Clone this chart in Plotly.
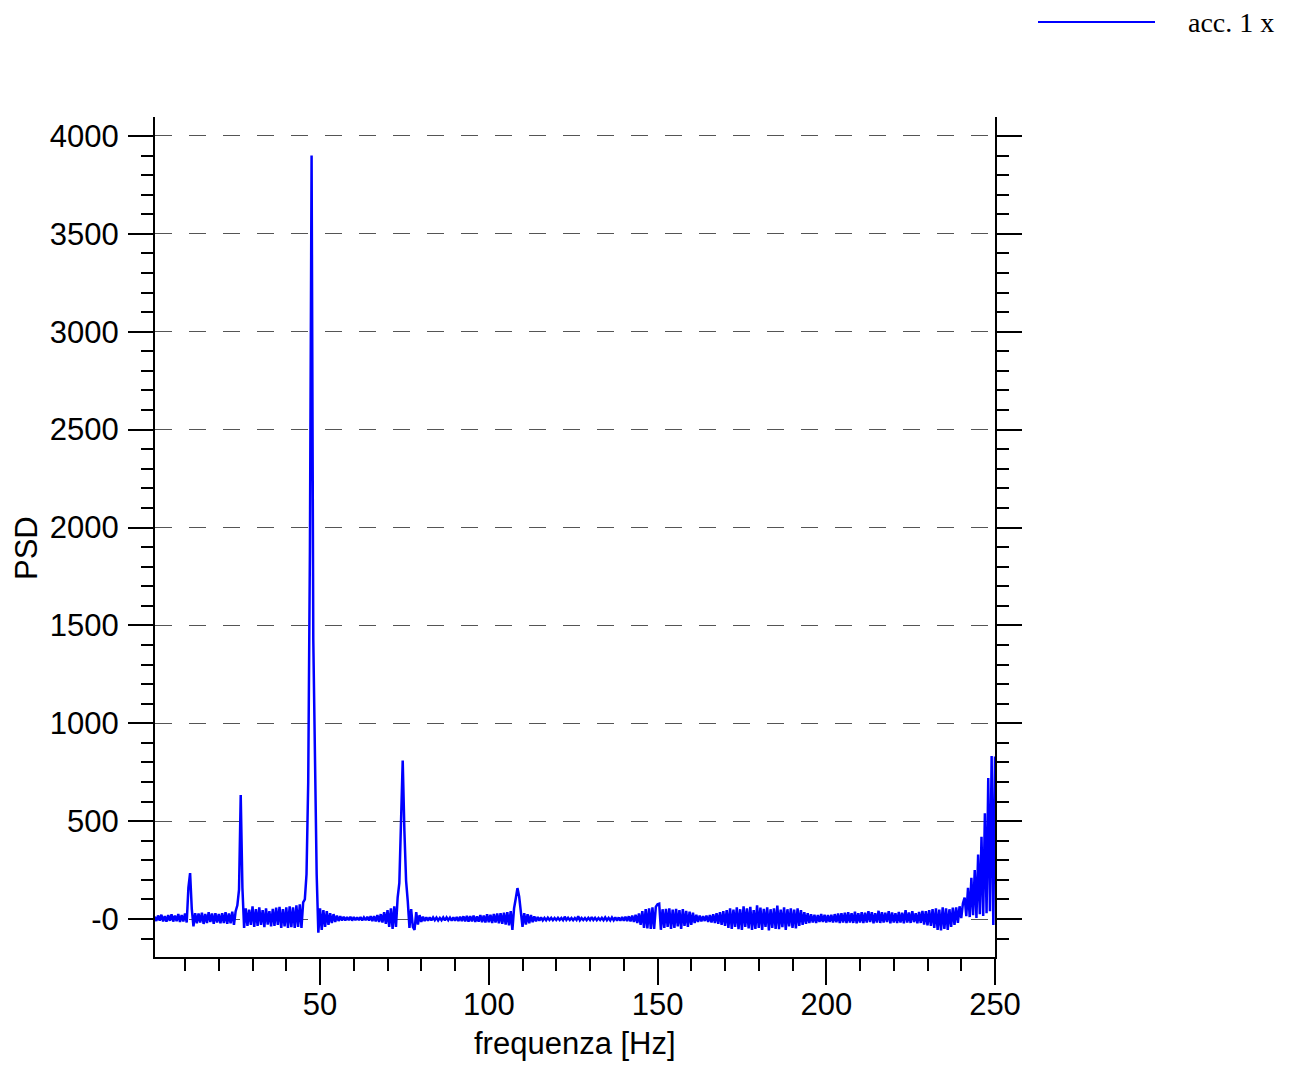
import numpy as np
import plotly.graph_objects as go

# Frequency bins (Hz): uniform sampling grid
FREQ_START = 1.0
FREQ_STEP = 0.5

# PSD values, one row per 10 Hz (20 bins per row)
psd_rows = [
    [12, -10, 18, -8, 22, -12, 15, -14, 20, -9, 24, -13, 18, -11, 25, -15, 20, -12, 28, -18],        # 1.0 - 10.5
    [160, 235, 50, -38, 30, -22, 28, -18, 32, -25, 26, -20, 35, -15, 28, -24, 30, -18, 26, -22],     # 11.0 - 20.5
    [30, -20, 35, -25, 28, -22, 38, -30, 40, 70, 150, 633, 160, -45, 55, -35, 48, -30, 65, -40],     # 21.0 - 30.5
    [50, -35, 60, -30, 45, -42, 55, -28, 40, -38, 52, -35, 58, -30, 62, -45, 50, -38, 60, -45],      # 31.0 - 40.5
    [65, -42, 60, -45, 70, -40, 75, -45, 85, 100, 230, 700, 1880, 3900, 1430, 700, 230, -70, 55, -55],  # 41.0 - 50.5
    [45, -40, 40, -30, 30, -20, 25, -15, 18, -10, 15, -8, 12, -7, 10, -6, 12, -8, 10, -6],           # 51.0 - 60.5
    [9, -6, 10, -7, 8, -6, 12, -8, 14, -10, 15, -12, 20, -15, 25, -18, 35, -25, 45, -40],            # 61.0 - 70.5
    [55, -50, 65, -40, 110, 185, 445, 810, 450, 195, 90, -45, 50, -40, -55, 35, -28, 20, -15, 12],   # 71.0 - 80.5
    [-10, 9, -8, 8, -7, 8, -6, 7, -7, 6, -6, 8, -7, 8, -6, 7, -8, 9, -8, 10],                         # 81.0 - 90.5
    [-10, 12, -10, 14, -12, 16, -14, 15, -12, 18, -15, 14, -13, 20, -16, 18, -18, 24, -16, 22],      # 91.0 - 100.5
    [-20, 26, -18, 28, -22, 30, -25, 32, -28, 35, -32, 40, -55, 55, 105, 158, 115, 45, -40, 30],     # 101.0 - 110.5
    [-28, 25, -22, 20, -16, 14, -12, 10, -8, 8, -7, 6, -6, 7, -5, 6, -6, 5, -5, 6],                  # 111.0 - 120.5
    [-5, 5, -6, 12, -5, 6, -5, 5, -6, 5, -5, 14, -6, 5, -5, 5, -6, 6, -5, 10],                        # 121.0 - 130.5
    [-5, 6, -6, 5, -5, 6, -6, 8, -6, 6, -7, 8, -6, 9, -8, 8, -9, 10, -9, 12],                         # 131.0 - 140.5
    [-10, 14, -12, 18, -15, 22, -20, 28, -30, 40, -45, 50, -48, 55, -50, 60, -50, 62, 75, 78],       # 141.0 - 150.5
    [-55, 50, -45, 52, -40, 55, -50, 48, -45, 52, -38, 45, -50, 50, -35, 42, -40, 38, -30, 32],      # 151.0 - 160.5
    [-20, 22, -15, 18, -12, 15, -10, 18, -15, 20, -18, 25, -20, 30, -25, 35, -30, 40, -35, 45],      # 161.0 - 170.5
    [-45, 55, -50, 48, -40, 60, -52, 50, -55, 65, -40, 55, -48, 62, -55, 45, -50, 70, -45, 58],      # 171.0 - 180.5
    [-55, 52, -40, 60, -58, 50, -45, 55, -50, 68, -52, 48, -42, 60, -55, 50, -38, 55, -45, 48],      # 181.0 - 190.5
    [-48, 55, -35, 45, -30, 35, -25, 30, -20, 25, -18, 22, -20, 20, -15, 25, -15, 22, -18, 20],      # 191.0 - 200.5
    [-15, 22, -18, 25, -16, 28, -20, 30, -18, 32, -20, 35, -18, 30, -20, 38, -22, 30, -18, 35],      # 201.0 - 210.5
    [-20, 32, -18, 40, -16, 35, -22, 30, -18, 42, -20, 35, -18, 32, -16, 40, -22, 34, -18, 30],      # 211.0 - 220.5
    [-20, 36, -18, 32, -22, 45, -18, 34, -20, 40, -16, 30, -22, 36, -20, 42, -28, 40, -32, 45],      # 221.0 - 230.5
    [-35, 50, -45, 55, -55, 48, -58, 60, -50, 55, -55, 50, -40, 58, -30, 60, -20, 65, 5, 80],        # 231.0 - 240.5
    [110, 15, 160, 10, 210, 20, 250, 5, 330, 25, 420, 15, 540, 30, 720, 40, 833, -30, 830],          # 241.0 - 250.0
]

y_tick_vals = [0, 500, 1000, 1500, 2000, 2500, 3000, 3500, 4000]
y_tick_text = ["-0", "500", "1000", "1500", "2000", "2500", "3000", "3500", "4000"]
x_tick_vals = [50, 100, 150, 200, 250]
x_tick_text = ["50", "100", "150", "200", "250"]
series_name = "acc. 1 x"

psd = [v for row in psd_rows for v in row]
freq = FREQ_START + FREQ_STEP * np.arange(len(psd))

# page layout (page pixels); the page body adds an 8px margin
OFF = 8
W, H = 1304 - OFF, 1065 - OFF
L, R, T, B = 155 - OFF, 995 - OFF, 117 - OFF, 957 - OFF
pw, ph = R - L, B - T

def px(xp):
    return (xp - OFF - L) / pw

def py(yp):
    return (B - (yp - OFF)) / ph

fig = go.Figure()
fig.add_trace(go.Scatter(
    x=freq, y=psd, mode="lines", name=series_name,
    line=dict(color="#0000FF", width=2.5), showlegend=False,
))

axis_font = dict(family="Liberation Sans, Arial, sans-serif", size=31, color="black")

fig.update_layout(
    width=W, height=H,
    margin=dict(l=L, r=W - R, t=T, b=H - B, pad=0),
    paper_bgcolor="white", plot_bgcolor="white",
    font=axis_font,
    xaxis=dict(
        range=[1.1, 250], tickvals=x_tick_vals, ticktext=x_tick_text,
        ticks="outside", ticklen=26, tickwidth=2, tickcolor="black",
        minor=dict(dtick=10, tick0=0, ticks="outside", ticklen=12, tickwidth=2, tickcolor="black"),
        showline=True, linewidth=2, linecolor="black", mirror=False,
        showgrid=False, zeroline=False, tickfont=axis_font, ticklabelstandoff=-7,
    ),
    yaxis=dict(
        range=[-194, 4097], tickvals=y_tick_vals, ticktext=y_tick_text,
        ticks="outside", ticklen=25, tickwidth=2, tickcolor="black",
        minor=dict(dtick=100, tick0=0, ticks="outside", ticklen=12, tickwidth=2, tickcolor="black",
                   showgrid=False),
        showline=True, linewidth=2, linecolor="black", mirror="ticks",
        showgrid=True, gridcolor="#555555", gridwidth=1, griddash="17px,17px",
        zeroline=False, tickfont=axis_font, ticklabelstandoff=3,
    ),
    shapes=[dict(type="line", xref="paper", yref="paper",
                 x0=px(1038), x1=px(1155), y0=py(22), y1=py(22),
                 line=dict(color="#0000FF", width=2))],
    annotations=[
        dict(text=series_name, xref="paper", yref="paper", x=px(1186), y=py(23),
             xanchor="left", yanchor="middle", showarrow=False,
             font=dict(family="Liberation Serif, Times New Roman, serif", size=28, color="black")),
        dict(text="PSD", xref="paper", yref="paper", x=px(26), y=py(548),
             xanchor="center", yanchor="middle", textangle=-90, showarrow=False,
             font=axis_font),
        dict(text="frequenza [Hz]", xref="paper", yref="paper", x=px(575), y=py(1063),
             xanchor="center", yanchor="bottom", showarrow=False, font=axis_font),
    ],
)

fig.write_html("out.html")
